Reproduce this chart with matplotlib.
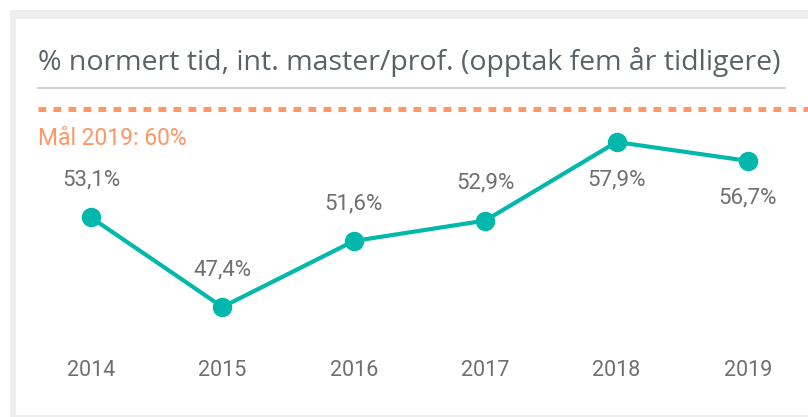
import matplotlib
matplotlib.use("Agg")
import matplotlib.pyplot as plt
from matplotlib.patches import Rectangle

years = [2014, 2015, 2016, 2017, 2018, 2019]
values = [53.1, 47.4, 51.6, 52.9, 57.9, 56.7]
value_labels = ["53,1%", "47,4%", "51,6%", "52,9%", "57,9%", "56,7%"]
label_above = [True, True, True, True, False, False]
target = 60.0
target_label = "Mål 2019: 60%"
title = "% normert tid, int. master/prof. (opptak fem år tidligere)"

W, H = 808, 417
fig = plt.figure(figsize=(W / 100, H / 100), dpi=100)
fig.patch.set_facecolor("white")

# card shadow and card
fig.add_artist(Rectangle((10 / W, 0), 1, (H - 10) / H, transform=fig.transFigure,
                         facecolor="#eeeeee", edgecolor="none", zorder=-2))
fig.add_artist(Rectangle((16 / W, 2 / H), 1, (H - 19 - 2) / H, transform=fig.transFigure,
                         facecolor="white", edgecolor="none", zorder=-1))

# axes mapping pixels
ax_bottom_px, ax_top_px = 345, 95
ax = fig.add_axes([0, (H - ax_bottom_px) / H, 1, (ax_bottom_px - ax_top_px) / H], zorder=1)
ax.patch.set_alpha(0)
px_per_year = 131.4
x0_px = 91
ax.set_xlim(2014 - x0_px / px_per_year, 2014 + (W - x0_px) / px_per_year)
px_per_unit = 15.71
ax.set_ylim(47.4 - (ax_bottom_px - 307) / px_per_unit, 47.4 + (307 - ax_top_px) / px_per_unit)
for s in ax.spines.values():
    s.set_visible(False)
ax.set_yticks([])
ax.set_xticks(years)
ax.set_xticklabels([str(y) for y in years], fontfamily="Roboto", fontsize=15.5, color="#6f6f6f")
ax.tick_params(axis="x", length=0, pad=11)

teal = "#01B8AA"
orange = "#FE9666"

# target line
x_start = 2014 - (x0_px - 38) / px_per_year
ax.plot([x_start, ax.get_xlim()[1]], [target, target], color=orange, lw=3.6,
        dashes=(1.55, 1.45), solid_capstyle="butt", dash_capstyle="butt")
ax.text(x_start, target - 1.9, target_label, fontfamily="Roboto", fontsize=16.5,
        color=orange, ha="left", va="center")

ax.plot(years, values, color=teal, lw=3, marker="o", markersize=13, zorder=3)
for x, v, lab, up in zip(years, values, value_labels, label_above):
    ax.annotate(lab, (x, v), xytext=(0, 27 if up else -27), textcoords="offset points",
                ha="center", va="center", fontfamily="Roboto", fontsize=16, color="#6f6f6f")

# title and rule
fig.text(38 / W, 1 - 62 / H, title, fontfamily="Open Sans", fontsize=20.5, color="#5b6266",
         ha="left", va="center")
fig.add_artist(plt.Line2D([38 / W, 785 / W], [1 - 88 / H, 1 - 88 / H], color="#c8c8c8", lw=1.2))

fig.savefig("out.png", dpi=100)
